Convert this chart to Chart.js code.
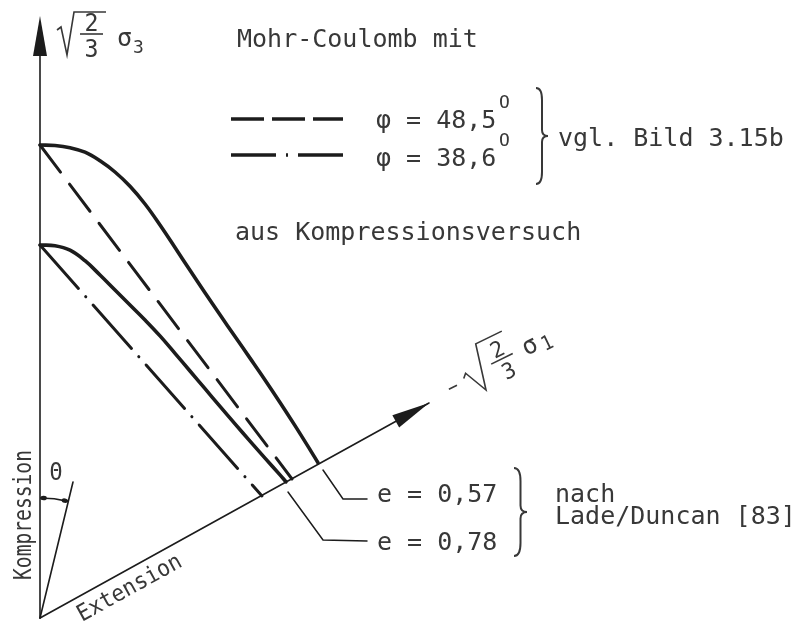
<!DOCTYPE html>
<html>
<head>
<meta charset="utf-8">
<script src="https://cdn.jsdelivr.net/npm/chart.js@4.4.0/dist/chart.umd.min.js"></script>
<style>
  html, body { margin: 0; padding: 0; background: #ffffff; }
  #wrap { width: 807px; height: 624px; }
</style>
</head>
<body>
<div id="wrap"><canvas id="c" width="807" height="624"></canvas></div>
<script>
// Section of the deviatoric plane: Mohr-Coulomb lines against Lade/Duncan failure curves.
// Drawing frame: origin at the apex of the two axes, x to the right, y upwards.

// Lade/Duncan failure curves
const curveE057 = [[0,473],[15,472.5],[30,470.3],[45,465.8],[60,457.2],[75,446],[90,431.7],[105,414],[120,393],[135,370.5],[150,347.7],[165,325.2],[180,303.2],[195,281.5],[210,259.9],[225,238.1],[240,215.6],[255,192.4],[270,168.4],[278,155.2]];
const curveE078 = [[0,373],[15,372.3],[30,367.8],[45,357.3],[60,343],[75,328],[90,313],[105,298],[120,282.1],[135,264.7],[150,247],[165,229.3],[180,211.6],[195,194.1],[210,176.9],[225,159.9],[240,143.1],[246,136.2]];

// Mohr-Coulomb lines from the compression test
const mohrPhi485 = [[0,473],[252,139]];
const mohrPhi386 = [[0,373],[222,122]];

// Axes and the Lode angle ray
const axisCompression = [[0,0],[0,566]];
const axisExtension = [[0,0],[389,215]];
const thetaRay = [[0,0],[33,136]];

// Legend samples and leader lines
const sampleDashed = [[191,499],[303,499]];
const sampleDashDot = [[191,463],[303,463]];
const leaderE057 = [[283,148],[303,119],[327,119]];
const leaderE078 = [[248,126],[283,78],[327,77]];

// Label texts
const legendTexts = ['φ = 48,5', 'φ = 38,6'];
const curveTexts = ['e = 0,57', 'e = 0,78'];

const INK = '#1c1c1c';
const TEXT = '#383838';
const MONO = '"DejaVu Sans Mono", monospace';

function ds(points, width, dash, opts) {
  return Object.assign({
    data: points.map(p => ({ x: p[0], y: p[1] })),
    borderColor: INK,
    borderWidth: width,
    borderDash: dash || [],
    borderCapStyle: 'round',
    borderJoinStyle: 'round',
    pointRadius: 0,
    fill: false,
    tension: 0
  }, opts || {});
}

const figureLabels = {
  id: 'figureLabels',
  afterDatasetsDraw(chart) {
    const { ctx, scales: { x, y } } = chart;
    const P = (a, b) => [x.getPixelForValue(a), y.getPixelForValue(b)];
    ctx.save();

    // arrowheads
    function arrow(from, to, len, half) {
      const [x0, y0] = P(from[0], from[1]);
      const [x1, y1] = P(to[0], to[1]);
      const d = Math.hypot(x1 - x0, y1 - y0);
      const ux = (x1 - x0) / d, uy = (y1 - y0) / d;
      const bx = x1 - ux * len, by = y1 - uy * len;
      ctx.beginPath();
      ctx.moveTo(x1, y1);
      ctx.lineTo(bx - uy * half, by + ux * half);
      ctx.lineTo(bx + uy * half, by - ux * half);
      ctx.closePath();
      ctx.fillStyle = INK;
      ctx.fill();
    }
    arrow([0, 0], [0, 602], 40, 7);
    arrow(axisExtension[0], axisExtension[1], 38, 7);

    // Lode angle arc
    const [ox, oy] = P(0, 0);
    const [rx, ry] = P(thetaRay[1][0], thetaRay[1][1]);
    const a1 = Math.atan2(ry - oy, rx - ox);
    const r = 120;
    ctx.strokeStyle = INK;
    ctx.lineWidth = 1.6;
    ctx.beginPath();
    ctx.arc(ox, oy, r, -Math.PI / 2, a1);
    ctx.stroke();
    ctx.fillStyle = INK;
    [-Math.PI / 2 + 0.03, a1 - 0.03].forEach(a => {
      ctx.beginPath();
      ctx.ellipse(ox + r * Math.cos(a), oy + r * Math.sin(a), 3.2, 2.2, a + Math.PI / 2, 0, Math.PI * 2);
      ctx.fill();
    });

    // curly braces
    function brace(x0, yt, yb, w) {
      const ym = (yt + yb) / 2, xm = x0 + w / 2;
      ctx.beginPath();
      ctx.moveTo(x0, yt);
      ctx.quadraticCurveTo(xm, yt, xm, yt + w);
      ctx.lineTo(xm, ym - w / 2);
      ctx.quadraticCurveTo(xm, ym, x0 + w, ym);
      ctx.quadraticCurveTo(xm, ym, xm, ym + w / 2);
      ctx.lineTo(xm, yb - w);
      ctx.quadraticCurveTo(xm, yb, x0, yb);
      ctx.lineWidth = 2;
      ctx.strokeStyle = TEXT;
      ctx.stroke();
    }
    brace(536, 88, 184, 12);
    brace(514, 468, 556, 13);

    // text
    ctx.fillStyle = TEXT;
    ctx.textBaseline = 'alphabetic';
    function t(str, px, py, size, maxW, align) {
      ctx.font = size + 'px ' + MONO;
      ctx.textAlign = align || 'left';
      if (maxW) ctx.fillText(str, px, py, maxW); else ctx.fillText(str, px, py);
    }
    t('Mohr-Coulomb mit', 237, 47, 25);
    t(legendTexts[0], 376, 128, 25);
    t('O', 499, 108, 18, 11);
    t(legendTexts[1], 376, 166, 25);
    t('O', 499, 146, 18, 11);
    t('vgl. Bild 3.15b', 558, 146, 25);
    t('aus Kompressionsversuch', 235, 240, 25);
    t(curveTexts[0], 377, 502, 25);
    t(curveTexts[1], 377, 550, 25);
    t('nach', 555, 502, 25);
    t('Lade/Duncan [83]', 555, 524, 25);
    t('Θ', 56, 480, 25, 13, 'center');

    // Kompression (vertical)
    ctx.save();
    ctx.translate(31, 580);
    ctx.rotate(-Math.PI / 2);
    t('Kompression', 0, 0, 25, 130);
    ctx.restore();

    // Extension (along the extension axis)
    const axAng = Math.atan2(P(389, 215)[1] - oy, P(389, 215)[0] - ox);
    ctx.save();
    ctx.translate(82, 622);
    ctx.rotate(axAng);
    t('Extension', 0, 0, 23, 116);
    ctx.restore();

    // sqrt(2/3) sigma_3 on the vertical axis
    ctx.save();
    ctx.translate(67, 46);
    ctx.lineWidth = 1.6;
    ctx.strokeStyle = TEXT;
    ctx.beginPath();
    ctx.moveTo(-10, -16); ctx.lineTo(-6, -19); ctx.lineTo(0, 9); ctx.lineTo(7, -34); ctx.lineTo(39, -34);
    ctx.stroke();
    ctx.beginPath();
    ctx.moveTo(13, -12); ctx.lineTo(36, -12);
    ctx.stroke();
    t('2', 24.5, -15, 24, 14, 'center');
    t('3', 24.5, 11, 24, 14, 'center');
    t('σ', 50, 0, 25);
    t('3', 66, 7, 18);
    ctx.restore();

    // -sqrt(2/3) sigma_1 along the extension axis
    ctx.save();
    ctx.translate(486, 390);
    ctx.rotate(-26 * Math.PI / 180);
    ctx.lineWidth = 1.6;
    ctx.strokeStyle = TEXT;
    ctx.beginPath(); ctx.moveTo(-33, -17); ctx.lineTo(-24, -17); ctx.stroke();
    ctx.beginPath();
    ctx.moveTo(-15, -20); ctx.lineTo(-11, -24); ctx.lineTo(0, 0); ctx.lineTo(11, -46); ctx.lineTo(40, -46);
    ctx.stroke();
    ctx.beginPath(); ctx.moveTo(16, -21); ctx.lineTo(40, -21); ctx.stroke();
    t('2', 28, -24, 22, 13, 'center');
    t('3', 29, 0, 22, 13, 'center');
    t('σ', 51, -13, 25);
    t('1', 70, -9, 20, 11);
    ctx.restore();

    ctx.restore();
  }
};

new Chart(document.getElementById('c'), {
  type: 'line',
  data: {
    datasets: [
      ds(axisCompression, 1.6),
      ds(axisExtension, 1.6),
      ds(thetaRay, 1.6),
      ds(mohrPhi485, 3, [34, 15]),
      ds(mohrPhi386, 3, [58, 11, 0.1, 11]),
      ds(curveE057, 3.6, [], { tension: 0.4 }),
      ds(curveE078, 3.6, [], { tension: 0.4 }),
      ds(sampleDashed, 3.4, [33, 8], { borderCapStyle: 'butt' }),
      ds(sampleDashDot, 3.4, [45, 10, 2, 10], { borderCapStyle: 'butt' }),
      ds(leaderE057, 1.5, [], { borderJoinStyle: 'miter' }),
      ds(leaderE078, 1.5, [], { borderJoinStyle: 'miter' })
    ]
  },
  options: {
    responsive: false,
    animation: false,
    events: [],
    layout: { padding: 0 },
    plugins: { legend: { display: false }, tooltip: { enabled: false } },
    scales: {
      x: { type: 'linear', min: -40, max: 767, display: false },
      y: { type: 'linear', min: -6, max: 618, display: false }
    }
  },
  plugins: [figureLabels]
});
</script>
</body>
</html>
